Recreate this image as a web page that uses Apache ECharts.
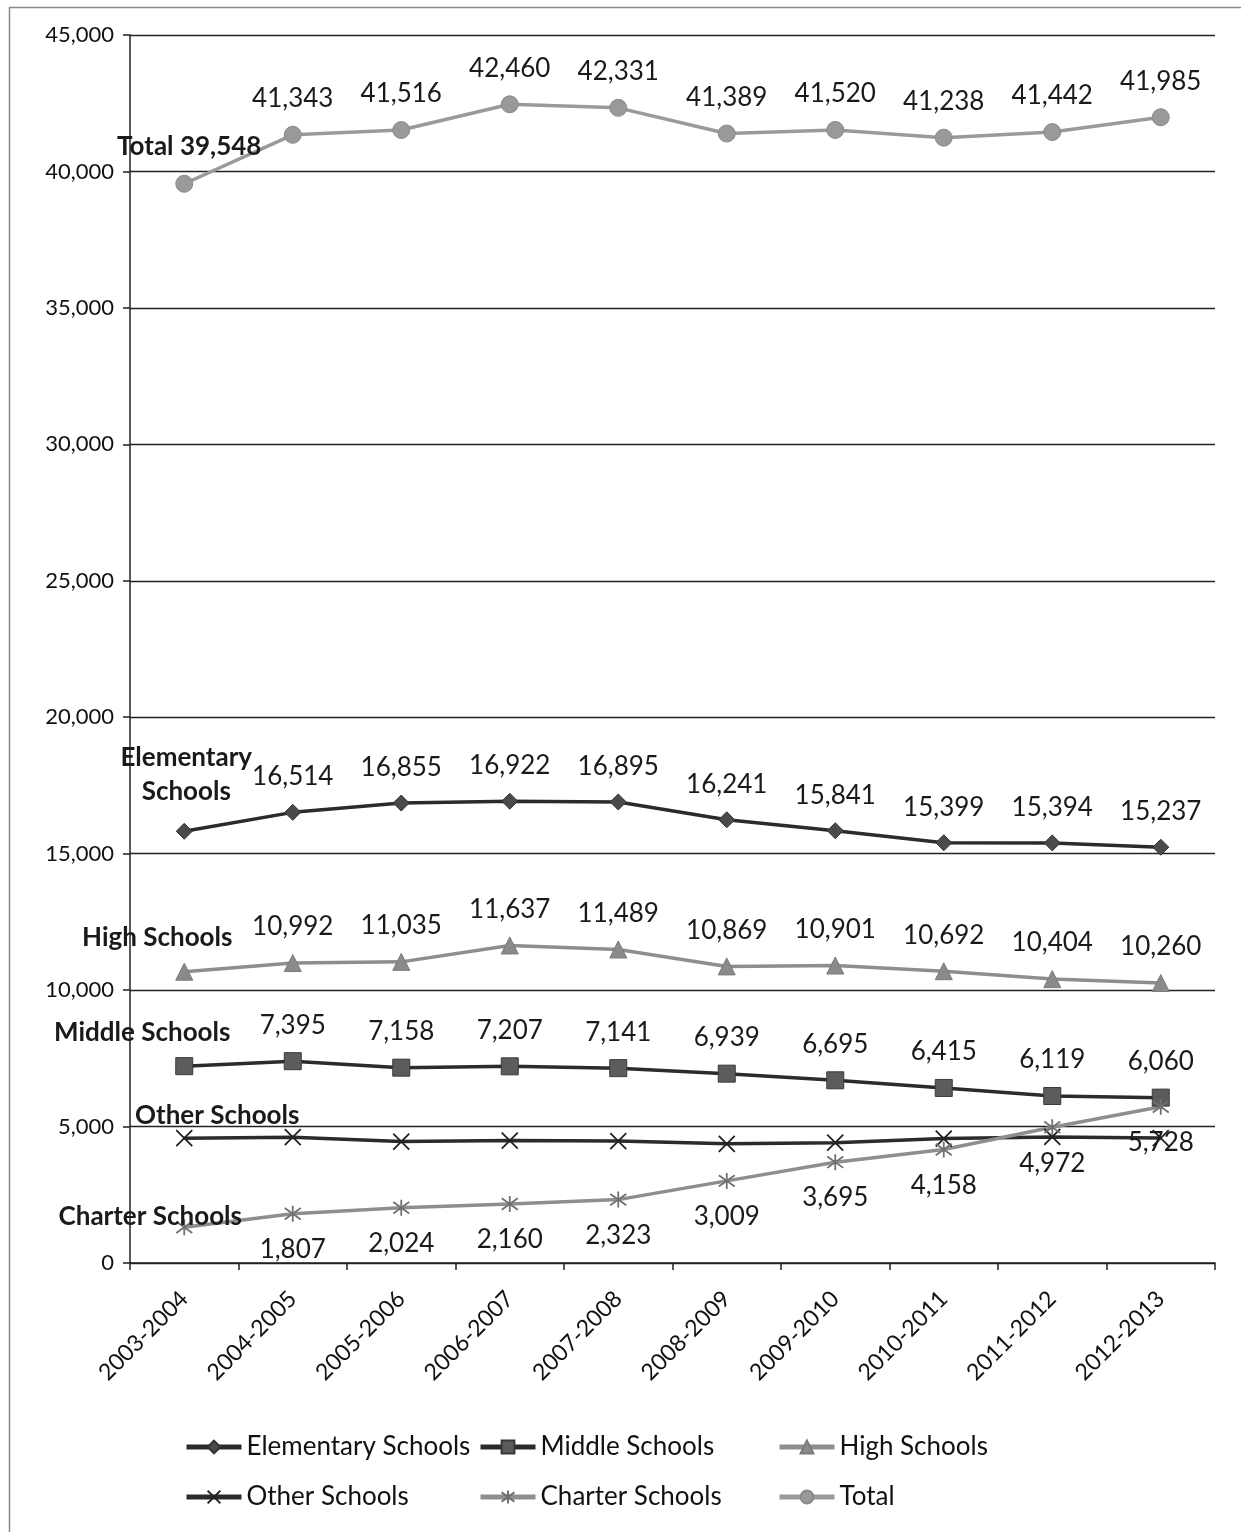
<!DOCTYPE html>
<html>
<head>
<meta charset="utf-8">
<script src="https://cdn.jsdelivr.net/npm/echarts@6/dist/echarts.min.js"></script>
<style>
html,body{margin:0;padding:0;background:#fff;}
#c{width:1241px;height:1532px;}
</style>
</head>
<body>
<div id="c"></div>
<script>
const categories = ['2003-2004','2004-2005','2005-2006','2006-2007','2007-2008','2008-2009','2009-2010','2010-2011','2011-2012','2012-2013'];
const elementary = [15821, 16514, 16855, 16922, 16895, 16241, 15841, 15399, 15394, 15237];
const middle = [7213, 7395, 7158, 7207, 7141, 6939, 6695, 6415, 6119, 6060];
const high = [10674, 10992, 11035, 11637, 11489, 10869, 10901, 10692, 10404, 10260];
const other = [4572, 4609, 4450, 4487, 4470, 4366, 4410, 4560, 4620, 4580];
const charter = [1308, 1807, 2024, 2160, 2323, 3009, 3695, 4158, 4972, 5728];
const total = [39548, 41343, 41516, 42460, 42331, 41389, 41520, 41238, 41442, 41985];
const yTicks = [0, 5000, 10000, 15000, 20000, 25000, 30000, 35000, 40000, 45000];

const FONT = 'Lato';
const fmt = v => Number(v).toLocaleString('en-US');

function build(values, nameLabel, nameOffset, valueLabelPos, showValues) {
  return values.map((v, i) => {
    if (i === 0) {
      return {
        value: v,
        label: {
          show: true,
          position: 'top',
          formatter: nameLabel,
          fontWeight: 'bold',
          fontSize: 26,
          offset: nameOffset,
          align: 'center',
          lineHeight: 34
        }
      };
    }
    return {value: v, label: {show: showValues, position: valueLabelPos}};
  });
}

const baseLabel = {
  show: true,
  fontFamily: FONT,
  fontSize: 26,
  color: '#1a1a1a',
  distance: 14,
  formatter: p => fmt(p.value)
};

const X_PATH = 'path://M0,0L10,10M10,0L0,10';
const STAR_PATH = 'path://M0,0L10,10M10,0L0,10M5,-2L5,12';

const legendText = {fontFamily: FONT, fontSize: 26, color: '#111', lineHeight: 30};
const legendCommon = {
  orient: 'vertical', top: 1432, padding: 0, itemGap: 20, itemWidth: 55, itemHeight: 16,
  textStyle: legendText, lineStyle: {width: 5}
};

const chart = echarts.init(document.getElementById('c'), null, {renderer: 'canvas'});
chart.setOption({
  backgroundColor: '#ffffff',
  animation: false,
  textStyle: {fontFamily: FONT},
  graphic: [{
    type: 'rect', left: 7, top: 5, silent: true,
    shape: {width: 1260, height: 1560},
    style: {fill: 'none', stroke: '#8a8a8a', lineWidth: 1.5}
  }],
  grid: {left: 130, right: 26, top: 35, bottom: 269, containLabel: false},
  xAxis: {
    type: 'category',
    data: categories,
    boundaryGap: true,
    axisLine: {show: true, lineStyle: {color: '#222', width: 1.5}},
    axisTick: {show: true, length: 7, interval: 0, lineStyle: {color: '#222', width: 1.5}},
    axisLabel: {rotate: 45, interval: 0, fontFamily: FONT, fontSize: 23, color: '#111', margin: 32},
    splitLine: {show: false}
  },
  yAxis: {
    type: 'value',
    min: yTicks[0],
    max: yTicks[yTicks.length - 1],
    interval: yTicks[1] - yTicks[0],
    axisLine: {show: true, lineStyle: {color: '#222', width: 1.5}},
    axisTick: {show: true, length: 7, lineStyle: {color: '#222', width: 1.5}},
    axisLabel: {fontFamily: FONT, fontSize: 22, color: '#111', margin: 16, formatter: v => fmt(v)},
    splitLine: {show: true, lineStyle: {color: '#222', width: 1.3}}
  },
  legend: [
    Object.assign({left: 184, data: ['Elementary Schools', 'Other Schools']}, legendCommon),
    Object.assign({left: 478, data: ['Middle Schools', 'Charter Schools']}, legendCommon),
    Object.assign({left: 777, data: ['High Schools', 'Total']}, legendCommon)
  ],
  series: [
    {
      name: 'Elementary Schools', type: 'line',
      data: build(elementary, 'Elementary\nSchools', [2, 0], 'top', true),
      symbol: 'diamond', symbolSize: 16,
      lineStyle: {color: '#2b2b2b', width: 3.5},
      itemStyle: {color: '#4a4a4a', borderColor: '#333', borderWidth: 1},
      label: baseLabel
    },
    {
      name: 'Middle Schools', type: 'line',
      data: build(middle, 'Middle Schools', [-42, 6], 'top', true),
      symbol: 'rect', symbolSize: 17,
      lineStyle: {color: '#2b2b2b', width: 3.5},
      itemStyle: {color: '#5c5c5c', borderColor: '#3a3a3a', borderWidth: 1},
      label: baseLabel
    },
    {
      name: 'High Schools', type: 'line',
      data: build(high, 'High Schools', [-27, 6], 'top', true),
      symbol: 'triangle', symbolSize: 17,
      lineStyle: {color: '#8e8e8e', width: 3.5},
      itemStyle: {color: '#8a8a8a', borderColor: '#7a7a7a', borderWidth: 1},
      label: baseLabel
    },
    {
      name: 'Other Schools', type: 'line',
      data: build(other, 'Other Schools', [33, 17], 'top', false),
      symbol: X_PATH, symbolSize: 16,
      lineStyle: {color: '#2b2b2b', width: 3.5},
      itemStyle: {color: '#222', borderColor: '#222', borderWidth: 1.8},
      label: baseLabel
    },
    {
      name: 'Charter Schools', type: 'line',
      data: build(charter, 'Charter Schools', [-34, 29], 'bottom', true),
      symbol: STAR_PATH, symbolSize: 16,
      lineStyle: {color: '#8e8e8e', width: 3.5},
      itemStyle: {color: '#707070', borderColor: '#707070', borderWidth: 1.8},
      label: Object.assign({}, baseLabel, {distance: 14})
    },
    {
      name: 'Total', type: 'line',
      data: build(total, 'Total 39,548', [5, 3], 'top', true),
      symbol: 'circle', symbolSize: 17,
      lineStyle: {color: '#9a9a9a', width: 3.5},
      itemStyle: {color: '#999999', borderColor: '#8a8a8a', borderWidth: 1},
      label: baseLabel
    }
  ]
});
</script>
</body>
</html>
